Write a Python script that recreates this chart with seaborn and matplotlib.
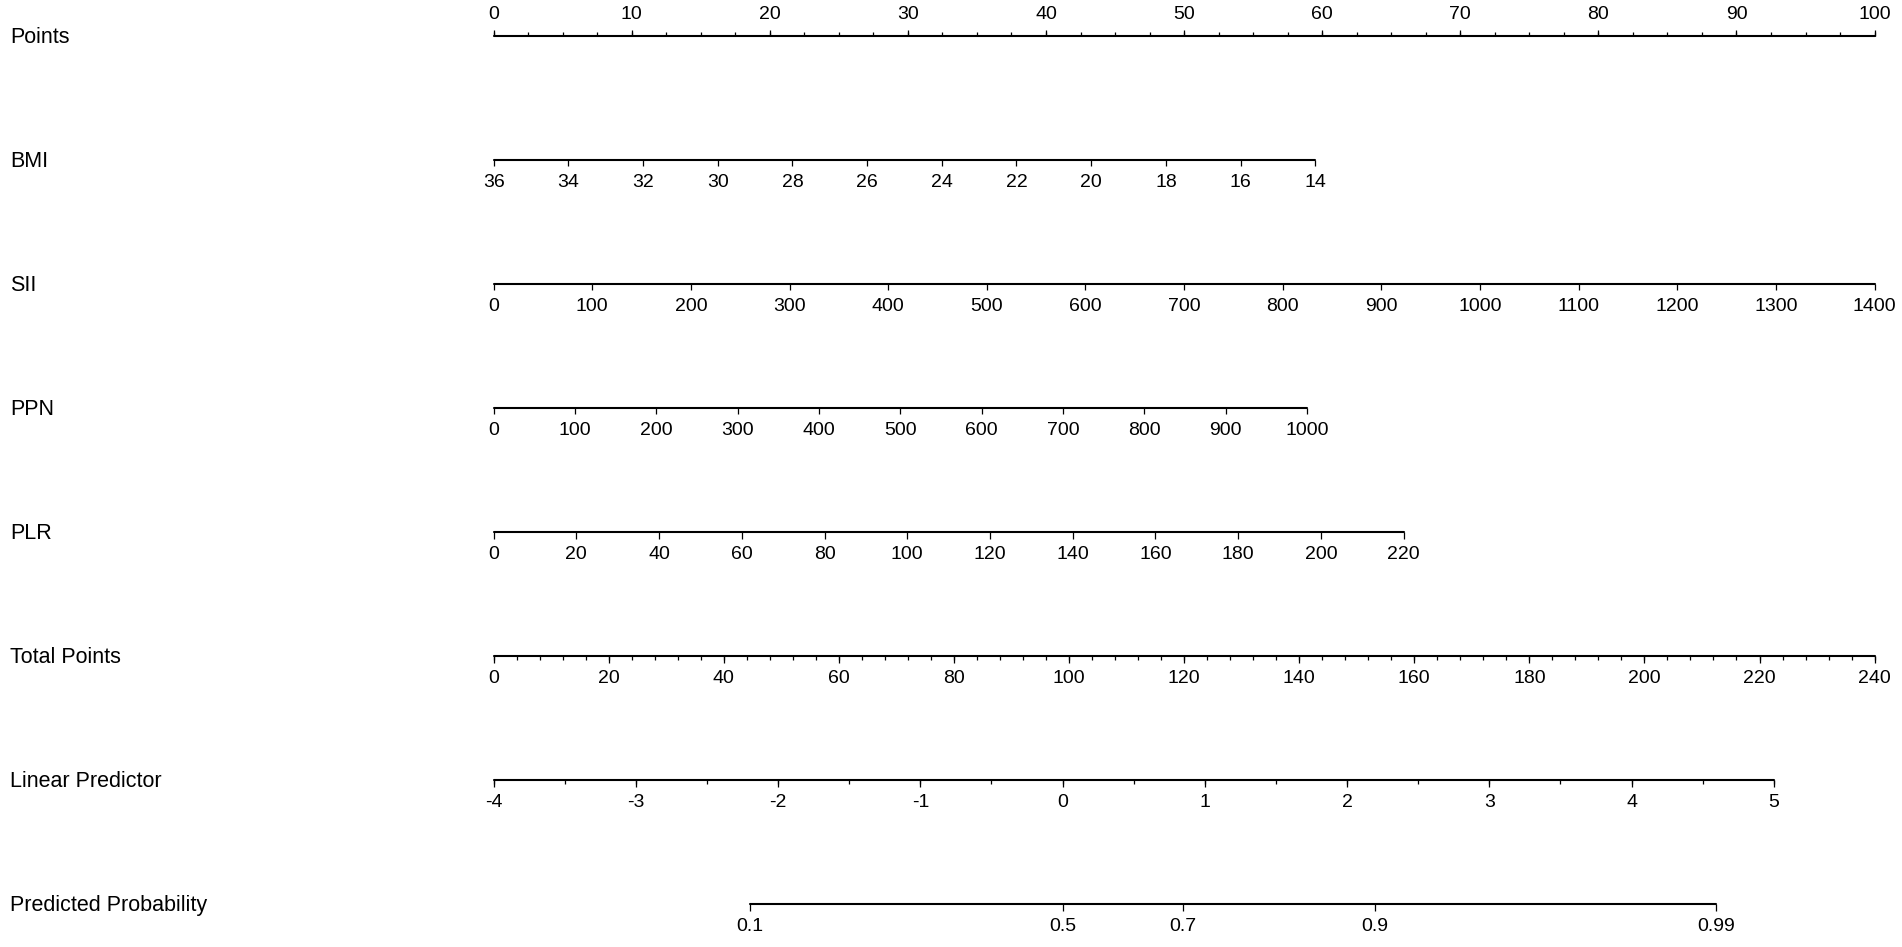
import matplotlib
matplotlib.use("Agg")
import matplotlib.pyplot as plt
import seaborn as sns
import pandas as pd
import numpy as np

# nomogram scales (value -> points, points on 0..100 scale)
points_ticks = np.arange(0, 101, 10)
bmi_ticks = [36, 34, 32, 30, 28, 26, 24, 22, 20, 18, 16, 14]
bmi_range = (36, 14)
bmi_max_points = 59.5
sii_ticks = np.arange(0, 1401, 100)
sii_range = (0, 1400)
sii_max_points = 100.0
ppn_ticks = np.arange(0, 1001, 100)
ppn_range = (0, 1000)
ppn_max_points = 58.9
plr_ticks = np.arange(0, 221, 20)
plr_range = (0, 220)
plr_max_points = 65.9
total_ticks = np.arange(0, 241, 20)
total_max = 240
lp_ticks = [-4, -3, -2, -1, 0, 1, 2, 3, 4, 5]
lp_zero_total = 0.0      # total points where LP = -4
lp_total_per_unit = 24.72
prob_ticks = [0.1, 0.5, 0.7, 0.9, 0.99]
prob_labels = ["0.1", "0.5", "0.7", "0.9", "0.99"]

row_names = ["Points", "BMI", "SII", "PPN", "PLR", "Total Points",
             "Linear Predictor", "Predicted Probability"]

sns.set_theme(style="white")
plt.rcParams["font.family"] = ["Liberation Sans", "DejaVu Sans"]
tick_font = ["Liberation Sans Narrow", "Liberation Sans", "DejaVu Sans"]

W, H = 1902, 947
fig = plt.figure(figsize=(W / 100, H / 100), dpi=100)
ax = fig.add_axes([0, 0, 1, 1])

# layout: pixel geometry
x0_px, px_per_pt = 493.6, 13.81
row_y = [35.7 + 124.1 * i for i in range(8)]


def lin(v, rng, pmax):
    return (np.asarray(v, float) - rng[0]) / (rng[1] - rng[0]) * pmax


def total_to_pts(t):
    return np.asarray(t, float) / total_max * 100


def lp_to_pts(lp):
    return total_to_pts(lp_zero_total + (np.asarray(lp, float) + 4) * lp_total_per_unit)


def prob_to_pts(p):
    p = np.asarray(p, float)
    return lp_to_pts(np.log(p / (1 - p)))


rows = [
    (points_ticks.astype(float), [str(v) for v in points_ticks], np.arange(0, 100.1, 2.5)),
    (lin(bmi_ticks, bmi_range, bmi_max_points), [str(v) for v in bmi_ticks], None),
    (lin(sii_ticks, sii_range, sii_max_points), [str(v) for v in sii_ticks], None),
    (lin(ppn_ticks, ppn_range, ppn_max_points), [str(v) for v in ppn_ticks], None),
    (lin(plr_ticks, plr_range, plr_max_points), [str(v) for v in plr_ticks], None),
    (total_to_pts(total_ticks), [str(v) for v in total_ticks], total_to_pts(np.arange(0, 241, 4))),
    (lp_to_pts(lp_ticks), [str(v) for v in lp_ticks], lp_to_pts(np.arange(-4, 5.01, 0.5))),
    (prob_to_pts(prob_ticks), prob_labels, None),
]

# baselines
segs = []
for i, (pos, labs, minor) in enumerate(rows):
    segs.append({"row": i, "x": pos.min(), "y": row_y[i]})
    segs.append({"row": i, "x": pos.max(), "y": row_y[i]})
lines_df = pd.DataFrame(segs)
sns.lineplot(data=lines_df, x="x", y="y", units="row", estimator=None, sort=False,
             color="black", lw=1.5, ax=ax, legend=False)
ax.set_xlim(-x0_px / px_per_pt, (W - x0_px) / px_per_pt)
ax.set_ylim(H, 0)
ax.axis("off")

major_len, minor_len = 6.5, 3.5
for i, (pos, labs, minor) in enumerate(rows):
    y = row_y[i]
    up = i == 0
    sgn = -1 if up else 1
    if minor is not None:
        ax.vlines(minor, y, y + sgn * minor_len, color="black", lw=0.9)
    ax.vlines(pos, y, y + sgn * (6 if up else major_len), color="black", lw=0.9)
    ly = y - 21 if up else y + 22.5
    for p, t in zip(pos, labs):
        ax.text(p, ly, t, ha="center", va="center", fontsize=14, color="black",
                family=tick_font)
    ax.text(-(x0_px - 10) / px_per_pt, y + 1.5, row_names[i], ha="left", va="center",
            fontsize=15.5, color="black")

fig.savefig("out.png", dpi=100)
